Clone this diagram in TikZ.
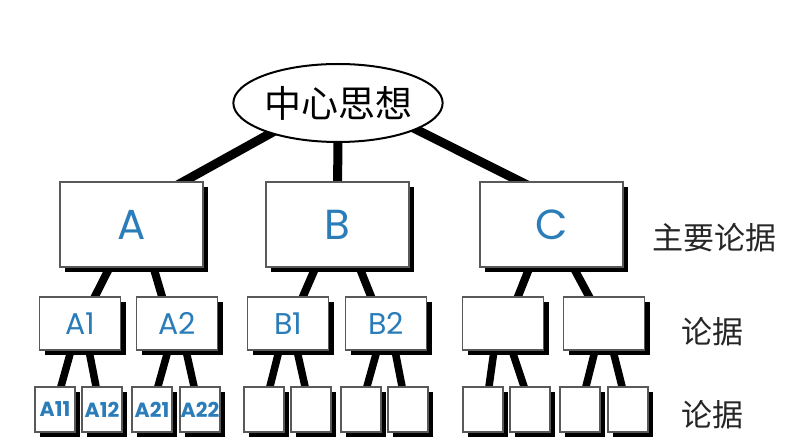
\documentclass[tikz,border=0pt]{standalone}
\usepackage{fontspec}
\setmainfont{Poppins}
\newfontfamily\cjk{Noto Sans CJK SC}
\usetikzlibrary{shadows,calc,shapes.geometric}
\pgfdeclarelayer{bg}
\pgfdeclarelayer{paper}
\pgfsetlayers{paper,bg,main}
\definecolor{letterblue}{RGB}{42,125,184}
\begin{document}
\begin{tikzpicture}[x=1pt,y=-1pt,
 box/.style={draw=black!65,line width=1.2pt,fill=white,inner sep=0pt,
   drop shadow={shadow xshift=5pt,shadow yshift=-5pt,fill=black,opacity=1},text=letterblue},
 bigbox/.style={box,minimum width=143pt,minimum height=85pt,font=\fontsize{42}{42}\selectfont},
 midbox/.style={box,minimum width=81pt,minimum height=53pt,font=\fontsize{30}{30}\selectfont},
 smallbox/.style={box,minimum width=40pt,minimum height=45pt,font=\bfseries\fontsize{20.5}{20.5}\selectfont},
 topnode/.style={ellipse,draw=black,line width=2pt,fill=white,inner sep=0pt,minimum width=177pt,minimum height=78pt,font=\cjk\fontsize{37}{37}\selectfont},
 conntop/.style={line width=9pt,black},
 connmid/.style={line width=8pt,black,shorten <=-6pt,shorten >=-6pt},
 connlow/.style={line width=7.5pt,black,shorten <=-6pt,shorten >=-6pt},
 lab/.style={font=\cjk\fontsize{31}{31}\selectfont,text=black!85}
]
\useasboundingbox (0,0) rectangle (795,446);
\begin{pgfonlayer}{paper}
\fill[white] (0,0) rectangle (795,446);
\end{pgfonlayer}

\node[topnode] (top) at (338,103) {中心思想};

\foreach \n/\x in {A/131.5,B/337.5,C/551.5}
  \node[bigbox] (\n) at (\x,224.5) {\n};

\foreach \n/\x/\t in {A1/80/A1,A2/177/A2,B1/288/B1,B2/386/B2,C1/503/{},C2/604/{}}
  \node[midbox] (\n) at (\x,323.5) {\t};

\foreach \n/\x/\t in {A11/55/A11,A12/102/A12,A21/152/A21,A22/200/A22,
                      B11/264/{},B12/311/{},B21/361/{},B22/408/{},
                      C11/483/{},C12/530/{},C21/580/{},C22/628/{}}
  \node[smallbox] (\n) at (\x,409.5) {\t};

\node[lab] (l1) at (714,238) {主要论据};
\node[lab] (l2) at (712,332) {论据};
\node[lab] (l3) at (712,415) {论据};

\begin{pgfonlayer}{bg}
  \draw[conntop] ($(top.center)+(-38,14)$) -- ($(A.north)+(38,8)$);
  \draw[conntop] (top.center) -- (B.center);
  \draw[conntop] ($(top.center)+(42,8.3)$) -- ($(C.north)+(-15.5,8)$);
  \foreach \p/\c/\a/\b in {A/A1/-22/15,A/A2/22/-15,B/B1/-22/15,B/B2/22/-15,C/C1/-22/15,C/C2/22/-15}
    \draw[connmid] ($(\p.south)+(\a,0)$) -- ($(\c.north)+(\b,0)$);
  \foreach \p/\c/\a/\b in {A1/A11/-9/6,A1/A12/9/-6,A2/A21/-9/6,A2/A22/9/-6,
                           B1/B11/-9/6,B1/B12/9/-6,B2/B21/-9/6,B2/B22/9/-6,
                           C1/C11/-9/6,C1/C12/9/-6,C2/C21/-9/6,C2/C22/9/-6}
    \draw[connlow] ($(\p.south)+(\a,0)$) -- ($(\c.north)+(\b,0)$);
\end{pgfonlayer}
\end{tikzpicture}
\end{document}
